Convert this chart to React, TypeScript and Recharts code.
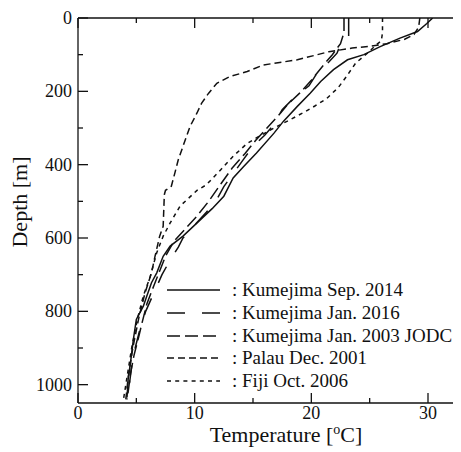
import { LineChart, Line, XAxis, YAxis, Legend } from 'recharts';

const FONT = "Liberation Serif, DejaVu Serif, serif";

const tempTicks = [0, 5, 10, 15, 20, 25, 30];
const depthTicks = [0, 100, 200, 300, 400, 500, 600, 700, 800, 900, 1000];

// [temperature (°C), depth (m)]
const kumejimaSep2014 = [
  [30.4, 0], [29.9, 15], [29.1, 37], [27.6, 55], [25.9, 78], [24.5, 100], [23.1, 114],
  [21.9, 141], [20.8, 173], [19.9, 205], [18.8, 241], [17.6, 282], [16.8, 314], [15.3, 368],
  [14.2, 405], [13.3, 436], [12.5, 486], [11.5, 520], [10.5, 550], [9.0, 595], [7.9, 622],
  [7.3, 650], [6.75, 695], [6.3, 722], [5.9, 758], [5.6, 786], [5.0, 822], [4.75, 876],
  [4.5, 940], [4.3, 985], [4.2, 1035],
];

const kumejimaJan2016 = [
  [23.2, 0], [23.2, 50], [22.6, 64], [22.2, 96], [21.5, 120], [20.5, 150], [19.8, 185],
  [18.6, 215], [17.5, 250], [16.8, 290], [16.0, 320], [15.0, 350], [14.2, 385], [13.4, 420],
  [12.5, 460], [11.8, 500], [11.0, 530], [10.0, 565], [9.0, 600], [8.6, 625], [7.9, 660],
  [7.2, 700], [6.5, 750], [5.8, 800], [5.3, 850], [4.9, 900], [4.6, 950], [4.4, 1000], [4.3, 1040],
];

const kumejimaJan2003 = [
  [22.8, 0], [22.8, 40], [22.5, 70], [21.8, 100], [21.0, 130], [20.0, 170], [19.0, 205],
  [18.0, 235], [17.2, 265], [16.2, 300], [15.2, 335], [14.3, 370], [13.2, 410], [12.3, 450],
  [11.2, 500], [10.2, 540], [9.2, 575], [8.2, 610], [7.5, 650], [7.0, 690], [6.5, 730],
  [5.9, 780], [5.5, 830], [5.2, 870], [4.8, 920], [4.5, 970], [4.3, 1020], [4.2, 1040],
];

const palauDec2001 = [
  [29.3, 0], [29.2, 25], [28.8, 45], [28.0, 58], [26.5, 70], [25.0, 77], [23.5, 82],
  [21.5, 92], [18.8, 114], [15.9, 128], [14.5, 146], [13.0, 160], [11.9, 178], [11.2, 205],
  [10.6, 232], [10.2, 259], [9.6, 296], [9.0, 350], [8.6, 386], [8.3, 423], [8.0, 459],
  [7.5, 470], [7.4, 482], [7.3, 568], [7.0, 595], [6.6, 650], [6.3, 695], [5.75, 749],
  [5.2, 820], [4.7, 900], [4.3, 980], [4.1, 1040],
];

const fijiOct2006 = [
  [26.1, 0], [26.1, 40], [26.0, 62], [25.5, 75], [24.8, 96], [23.8, 123], [23.0, 160],
  [22.3, 190], [21.3, 220], [20.3, 240], [19.5, 255], [18.2, 277], [16.8, 300], [15.5, 323],
  [14.5, 342], [13.3, 377], [12.2, 415], [11.0, 455], [10.2, 470], [8.75, 513], [7.9, 559],
  [7.3, 595], [6.75, 640], [6.2, 704], [5.6, 758], [5.1, 820], [4.6, 900], [4.2, 980], [3.9, 1040],
];

const series = [
  { name: 'Kumejima Sep. 2014', pts: kumejimaSep2014, dash: undefined },
  { name: 'Kumejima Jan. 2016', pts: kumejimaJan2016, dash: '18 17' },
  { name: 'Kumejima Jan. 2003 JODC', pts: kumejimaJan2003, dash: '13 5' },
  { name: 'Palau Dec. 2001', pts: palauDec2001, dash: '7 4' },
  { name: 'Fiji Oct. 2006', pts: fijiOct2006, dash: '4 4.2' },
];

const toRows = (pts: number[][]) => pts.map(([t, d]) => ({ t, d }));

function BottomTick(props: any) {
  const { x, y, payload } = props;
  const major = payload.value % 10 === 0;
  return (
    <g>
      <line x1={x} y1={y} x2={x} y2={y - (major ? 10 : 5)} stroke="#111" strokeWidth={1.3} />
      {major && (
        <text x={x} y={y + 16} textAnchor="middle" fontSize={18} fontFamily={FONT} fill="#111">
          {payload.value}
        </text>
      )}
    </g>
  );
}

function TopTick(props: any) {
  const { x, y, payload } = props;
  const major = payload.value % 10 === 0;
  return <line x1={x} y1={y} x2={x} y2={y + (major ? 10 : 5)} stroke="#111" strokeWidth={1.3} />;
}

function LeftTick(props: any) {
  const { x, y, payload } = props;
  const major = payload.value % 200 === 0;
  return (
    <g>
      <line x1={x} y1={y} x2={x + (major ? 10 : 5)} y2={y} stroke="#111" strokeWidth={1.3} />
      {major && (
        <text x={x - 6} y={y + 6} textAnchor="end" fontSize={18} fontFamily={FONT} fill="#111">
          {payload.value}
        </text>
      )}
    </g>
  );
}

function RightTick(props: any) {
  const { x, y, payload } = props;
  const major = payload.value % 200 === 0;
  return <line x1={x} y1={y} x2={x - (major ? 9 : 4.5)} y2={y} stroke="#111" strokeWidth={1.3} />;
}

function XTitle() {
  return (
    <text x={278} y={434} textAnchor="middle" fontSize={22} fontFamily={FONT} fill="#111">
      Temperature [<tspan dy={-8} fontSize={14}>o</tspan>
      <tspan dy={8}>C]</tspan>
    </text>
  );
}

function YTitle() {
  return (
    <text
      x={19}
      y={194}
      transform="rotate(-90 19 194)"
      textAnchor="middle"
      fontSize={22}
      fontFamily={FONT}
      fill="#111"
    >
      Depth [m]
    </text>
  );
}

function LegendBox() {
  return (
    <div style={{ fontFamily: FONT, fontSize: 19, color: '#111' }}>
      {series.map((s) => (
        <div key={s.name} style={{ display: 'flex', alignItems: 'center', height: 22.7, whiteSpace: 'nowrap' }}>
          <svg width={53} height={8} style={{ display: 'block' }}>
            <line x1={0} y1={4} x2={53} y2={4} stroke="#111" strokeWidth={1.6} strokeDasharray={s.dash} />
          </svg>
          <span style={{ marginLeft: 12 }}>: {s.name}</span>
        </div>
      ))}
    </div>
  );
}

export default function App() {
  return (
    <div style={{ width: 453, height: 444, overflow: 'hidden', fontFamily: FONT }}>
      <LineChart
        width={458}
        height={444}
        layout="vertical"
        margin={{ top: 9, right: 2, bottom: 48, left: 69 }}
      >
        <XAxis
          type="number"
          dataKey="t"
          domain={[0, 33]}
          allowDataOverflow
          ticks={tempTicks}
          interval={0}
          height={1}
          tickSize={0}
          tickMargin={0}
          tickLine={false}
          tick={<BottomTick />}
          axisLine={{ stroke: '#111', strokeWidth: 1.3 }}
          label={<XTitle />}
        />
        <XAxis
          xAxisId="top"
          orientation="top"
          type="number"
          domain={[0, 33]}
          allowDataOverflow
          ticks={tempTicks}
          interval={0}
          height={1}
          tickSize={0}
          tickMargin={0}
          tickLine={false}
          tick={<TopTick />}
          axisLine={{ stroke: '#111', strokeWidth: 1.3 }}
        />
        <YAxis
          type="number"
          dataKey="d"
          domain={[0, 1050]}
          allowDataOverflow
          ticks={depthTicks}
          interval={0}
          width={1}
          tickSize={0}
          tickMargin={0}
          tickLine={false}
          tick={<LeftTick />}
          axisLine={{ stroke: '#111', strokeWidth: 1.3 }}
          label={<YTitle />}
        />
        <YAxis
          yAxisId="right"
          orientation="right"
          type="number"
          domain={[0, 1050]}
          allowDataOverflow
          ticks={depthTicks}
          interval={0}
          width={1}
          tickSize={0}
          tickMargin={0}
          tickLine={false}
          tick={<RightTick />}
          axisLine={false}
        />
        {series.map((s) => (
          <Line
            key={s.name}
            name={s.name}
            data={toRows(s.pts)}
            dataKey="t"
            stroke="#111"
            strokeWidth={1.5}
            strokeDasharray={s.dash}
            dot={false}
            isAnimationActive={false}
          />
        ))}
        <Legend
          layout="vertical"
          align="center"
          verticalAlign="middle"
          wrapperStyle={{ left: 159, top: 271, width: 'auto' }}
          content={<LegendBox />}
        />
      </LineChart>
    </div>
  );
}
